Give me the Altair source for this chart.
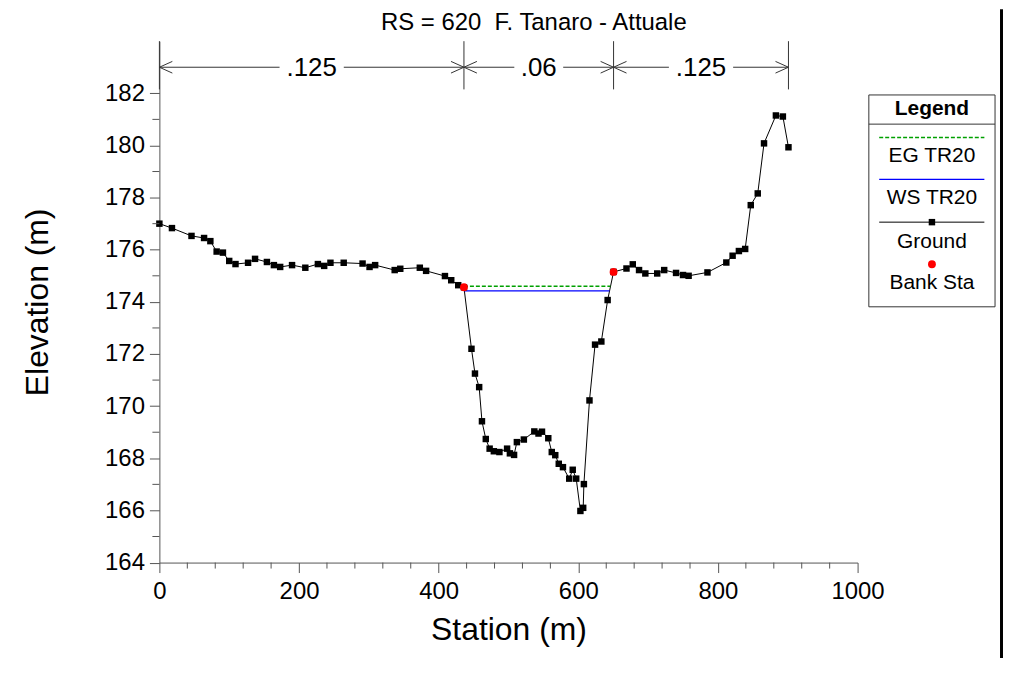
import altair as alt
import pandas as pd

# ---------------- data ----------------
station = [0, 18, 46, 64, 73, 82, 91, 100, 109, 127, 137, 154, 164, 173, 190, 209,
           227, 236, 245, 264, 291, 301, 309, 337, 345, 373, 382, 409, 418, 428, 436.2,
           447, 452, 458, 462, 467.5, 473, 479, 487, 498, 502, 508, 512, 522, 537, 543,
           548, 557, 562, 567, 572, 578, 587, 592, 597, 603, 607, 608, 616, 624, 633,
           642, 650.5, 669, 678, 687, 696, 713, 723, 740, 750, 758, 785, 812, 821, 830,
           839, 847, 857, 866, 883, 893, 901]
elevation = [177.0, 176.83, 176.53, 176.45, 176.33, 175.93, 175.89, 175.57, 175.45, 175.50,
             175.65, 175.53, 175.41, 175.34, 175.41, 175.31, 175.45, 175.38, 175.50, 175.50,
             175.47, 175.34, 175.41, 175.22, 175.27, 175.31, 175.19, 174.99, 174.83, 174.64,
             174.56, 172.20, 171.25, 170.73, 169.42, 168.74, 168.37, 168.27, 168.24, 168.37,
             168.19, 168.13, 168.62, 168.72, 169.03, 168.95, 169.02, 168.77, 168.24, 168.12,
             167.79, 167.66, 167.22, 167.56, 167.22, 165.98, 166.10, 167.01, 170.22, 172.36,
             172.48, 174.07, 175.15, 175.28, 175.44, 175.22, 175.09, 175.09, 175.22, 175.11,
             175.03, 175.00, 175.13, 175.51, 175.77, 175.95, 176.03, 177.71, 178.16, 180.08,
             181.15, 181.11, 179.93]

bank_sta = [436.2, 650.5]
bank_elev = [174.56, 175.15]

eg_x = [436.2, 646.0]
eg_elev = 174.60
ws_x = [436.8, 644.7]
ws_elev = 174.42

n_break = [0, 436.2, 650.5, 901]
n_values = [".125", ".06", ".125"]
n_gap = [46, 35, 46]          # half-width of the gap around each n label (station units)

x_ticks = [0, 200, 400, 600, 800, 1000]
x_minor = [40, 80, 120, 160, 240, 280, 320, 360, 440, 480, 520, 560, 640, 680, 720, 760,
           840, 880, 920, 960]
y_ticks = [164, 166, 168, 170, 172, 174, 176, 178, 180, 182]
y_minor = [165, 167, 169, 171, 173, 175, 177, 179, 181]

title_text = "RS = 620\u00a0 F. Tanaro - Attuale"
legend_labels = ["EG TR20", "WS TR20", "Ground", "Bank Sta"]

# ---------------- layout constants ----------------
FONT = "Liberation Sans"
W, H = 701, 523.5
AX = "#555555"
ANN = "#333333"

xs = alt.Scale(domain=[0, 1000], nice=False, zero=False)
ys = alt.Scale(domain=[164, 184], nice=False, zero=False)
x_axis = alt.Axis(values=x_ticks, title="Station (m)", tickSize=10, format="d",
                  labelFlush=False, labelPadding=7, titlePadding=11, grid=False)
y_axis = alt.Axis(values=y_ticks, title="Elevation (m)", tickSize=10, format="d",
                  labelFlush=False, labelPadding=5, titlePadding=50, grid=False)


def X(field):
    return alt.X(field, scale=xs, axis=x_axis)


def Y(field):
    return alt.Y(field, scale=ys, axis=y_axis)


ground_df = pd.DataFrame({"station": station, "elev": elevation})
bank_df = pd.DataFrame({"station": bank_sta, "elev": bank_elev})
eg_df = pd.DataFrame({"x1": [eg_x[0]], "x2": [eg_x[1]], "y": [eg_elev]})
ws_df = pd.DataFrame({"x1": [ws_x[0]], "x2": [ws_x[1]], "y": [ws_elev]})

# n-value annotation pieces derived from the break stations
seg_rows, txt_rows = [], []
for i, val in enumerate(n_values):
    a, b = n_break[i], n_break[i + 1]
    c = (a + b) / 2
    seg_rows.append({"x1": a, "x2": c - n_gap[i]})
    seg_rows.append({"x1": c + n_gap[i], "x2": b})
    txt_rows.append({"x": c, "label": val})
seg_df = pd.DataFrame(seg_rows)
txt_df = pd.DataFrame(txt_rows)
left_heads = pd.DataFrame({"x": n_break[:-1]})
right_heads = pd.DataFrame({"x": n_break[1:]})
div_df = pd.DataFrame({"x": n_break})

one = pd.DataFrame({"a": [0]})

# ---------------- chart layers ----------------
ground_line = alt.Chart(ground_df).mark_line(color="black", strokeWidth=1).encode(
    x=X("station:Q"), y=Y("elev:Q"))
ground_pts = alt.Chart(ground_df).mark_square(size=42, color="black", opacity=1).encode(
    x=X("station:Q"), y=Y("elev:Q"))
bank_pts = alt.Chart(bank_df).mark_circle(size=62, color="#ff0000", opacity=1).encode(
    x=X("station:Q"), y=Y("elev:Q"))
eg_line = alt.Chart(eg_df).mark_rule(
    color="#00a000", strokeWidth=1.3, strokeDash=[4, 2]).encode(
    x=X("x1:Q"), x2="x2:Q", y=Y("y:Q"))
ws_line = alt.Chart(ws_df).mark_rule(color="#0000ff", strokeWidth=1.3).encode(
    x=X("x1:Q"), x2="x2:Q", y=Y("y:Q"))

# n-value annotation
dividers = alt.Chart(div_df).transform_calculate(y1="184", y2="182.15").mark_rule(
    color=ANN, strokeWidth=1).encode(x=X("x:Q"), y=Y("y1:Q"), y2="y2:Q")
segments = alt.Chart(seg_df).transform_calculate(y="183").mark_rule(
    color=ANN, strokeWidth=1).encode(x=X("x1:Q"), x2="x2:Q", y=Y("y:Q"))
rhead = alt.Chart(right_heads).transform_calculate(y="183").mark_point(
    shape="M-2,-0.9L0,0L-2,0.9", size=169, filled=False, stroke=ANN,
    strokeWidth=1, opacity=1).encode(x=X("x:Q"), y=Y("y:Q"))
lhead = alt.Chart(left_heads).transform_calculate(y="183").mark_point(
    shape="M2,-0.9L0,0L2,0.9", size=169, filled=False, stroke=ANN,
    strokeWidth=1, opacity=1).encode(x=X("x:Q"), y=Y("y:Q"))
ntext = alt.Chart(txt_df).transform_calculate(y="183").mark_text(
    font=FONT, fontSize=26, color="black", baseline="middle", align="center", dy=1).encode(
    x=X("x:Q"), y=Y("y:Q"), text="label:N")

# minor ticks
xminor = alt.Chart(pd.DataFrame({"v": x_minor})).mark_rule(color=AX, strokeWidth=1).encode(
    x=X("v:Q"), y=alt.value(H), y2=alt.value(H + 6))
yminor = alt.Chart(pd.DataFrame({"v": y_minor})).mark_rule(color=AX, strokeWidth=1).encode(
    y=Y("v:Q"), x=alt.value(-7), x2=alt.value(0))

# title
title = alt.Chart(one).mark_text(font=FONT, fontSize=24, color="black",
                                 baseline="middle", align="center").encode(
    x=alt.value(376), y=alt.value(-18), text=alt.value(title_text))

# legend (drawn box)
LX0, LX1, LY0, LY1 = 712.3, 839, 54, 266.7
LC = (LX0 + LX1) / 2
leg_box = alt.Chart(one).mark_rect(fill="white", stroke="#333333", strokeWidth=1).encode(
    x=alt.value(LX0), x2=alt.value(LX1), y=alt.value(LY0), y2=alt.value(LY1))
leg_sep = alt.Chart(one).mark_rule(color="#333333", strokeWidth=1).encode(
    x=alt.value(LX0), x2=alt.value(LX1), y=alt.value(83.3))
leg_head = alt.Chart(one).mark_text(font=FONT, fontSize=21, fontWeight="bold",
                                    baseline="middle", align="center").encode(
    x=alt.value(LC), y=alt.value(68), text=alt.value("Legend"))
leg_eg = alt.Chart(one).mark_rule(color="#00a000", strokeWidth=1.3, strokeDash=[4, 2]).encode(
    x=alt.value(722.7), x2=alt.value(828.3), y=alt.value(96.7))
leg_ws = alt.Chart(one).mark_rule(color="#0000ff", strokeWidth=1.3).encode(
    x=alt.value(722.7), x2=alt.value(828.3), y=alt.value(138.7))
leg_gr = alt.Chart(one).mark_rule(color="black", strokeWidth=1).encode(
    x=alt.value(722.7), x2=alt.value(828.3), y=alt.value(181.7))
leg_gr_pt = alt.Chart(one).mark_square(size=42, color="black", opacity=1).encode(
    x=alt.value(LC), y=alt.value(181.7))
leg_bk = alt.Chart(one).mark_circle(size=62, color="#ff0000", opacity=1).encode(
    x=alt.value(LC), y=alt.value(224))
leg_text_df = pd.DataFrame({"label": legend_labels, "py": [115.5, 157.8, 201.5, 242.8]})
leg_text = alt.Chart(leg_text_df).mark_text(font=FONT, fontSize=21, color="black",
                                            baseline="middle", align="center").encode(
    x=alt.value(LC), y=alt.Y("py:Q", scale=None, axis=None), text="label:N")

# right frame line
frame = alt.Chart(one).mark_rule(color="black", strokeWidth=3).encode(
    x=alt.value(845.5), y=alt.value(-32), y2=alt.value(620))

chart = alt.layer(
    ground_line, eg_line, ws_line, ground_pts, bank_pts,
    dividers, segments, rhead, lhead, ntext,
    xminor, yminor, title,
    leg_box, leg_sep, leg_head, leg_eg, leg_ws, leg_gr, leg_gr_pt, leg_bk, leg_text,
    frame,
).properties(
    width=W, height=H,
    autosize=alt.AutoSizeParams(type="none"),
    padding={"left": 152, "top": 32, "right": 146, "bottom": 94.5},
    background="white",
).configure_view(strokeWidth=0).configure_axis(
    domainColor=AX, tickColor=AX, domainWidth=1, tickWidth=1,
    labelFont=FONT, labelFontSize=24, labelColor="black",
    titleFont=FONT, titleFontSize=32, titleFontWeight="normal", titleColor="black",
)

chart.save("out.html", embed_options={"renderer": "svg", "actions": False})
